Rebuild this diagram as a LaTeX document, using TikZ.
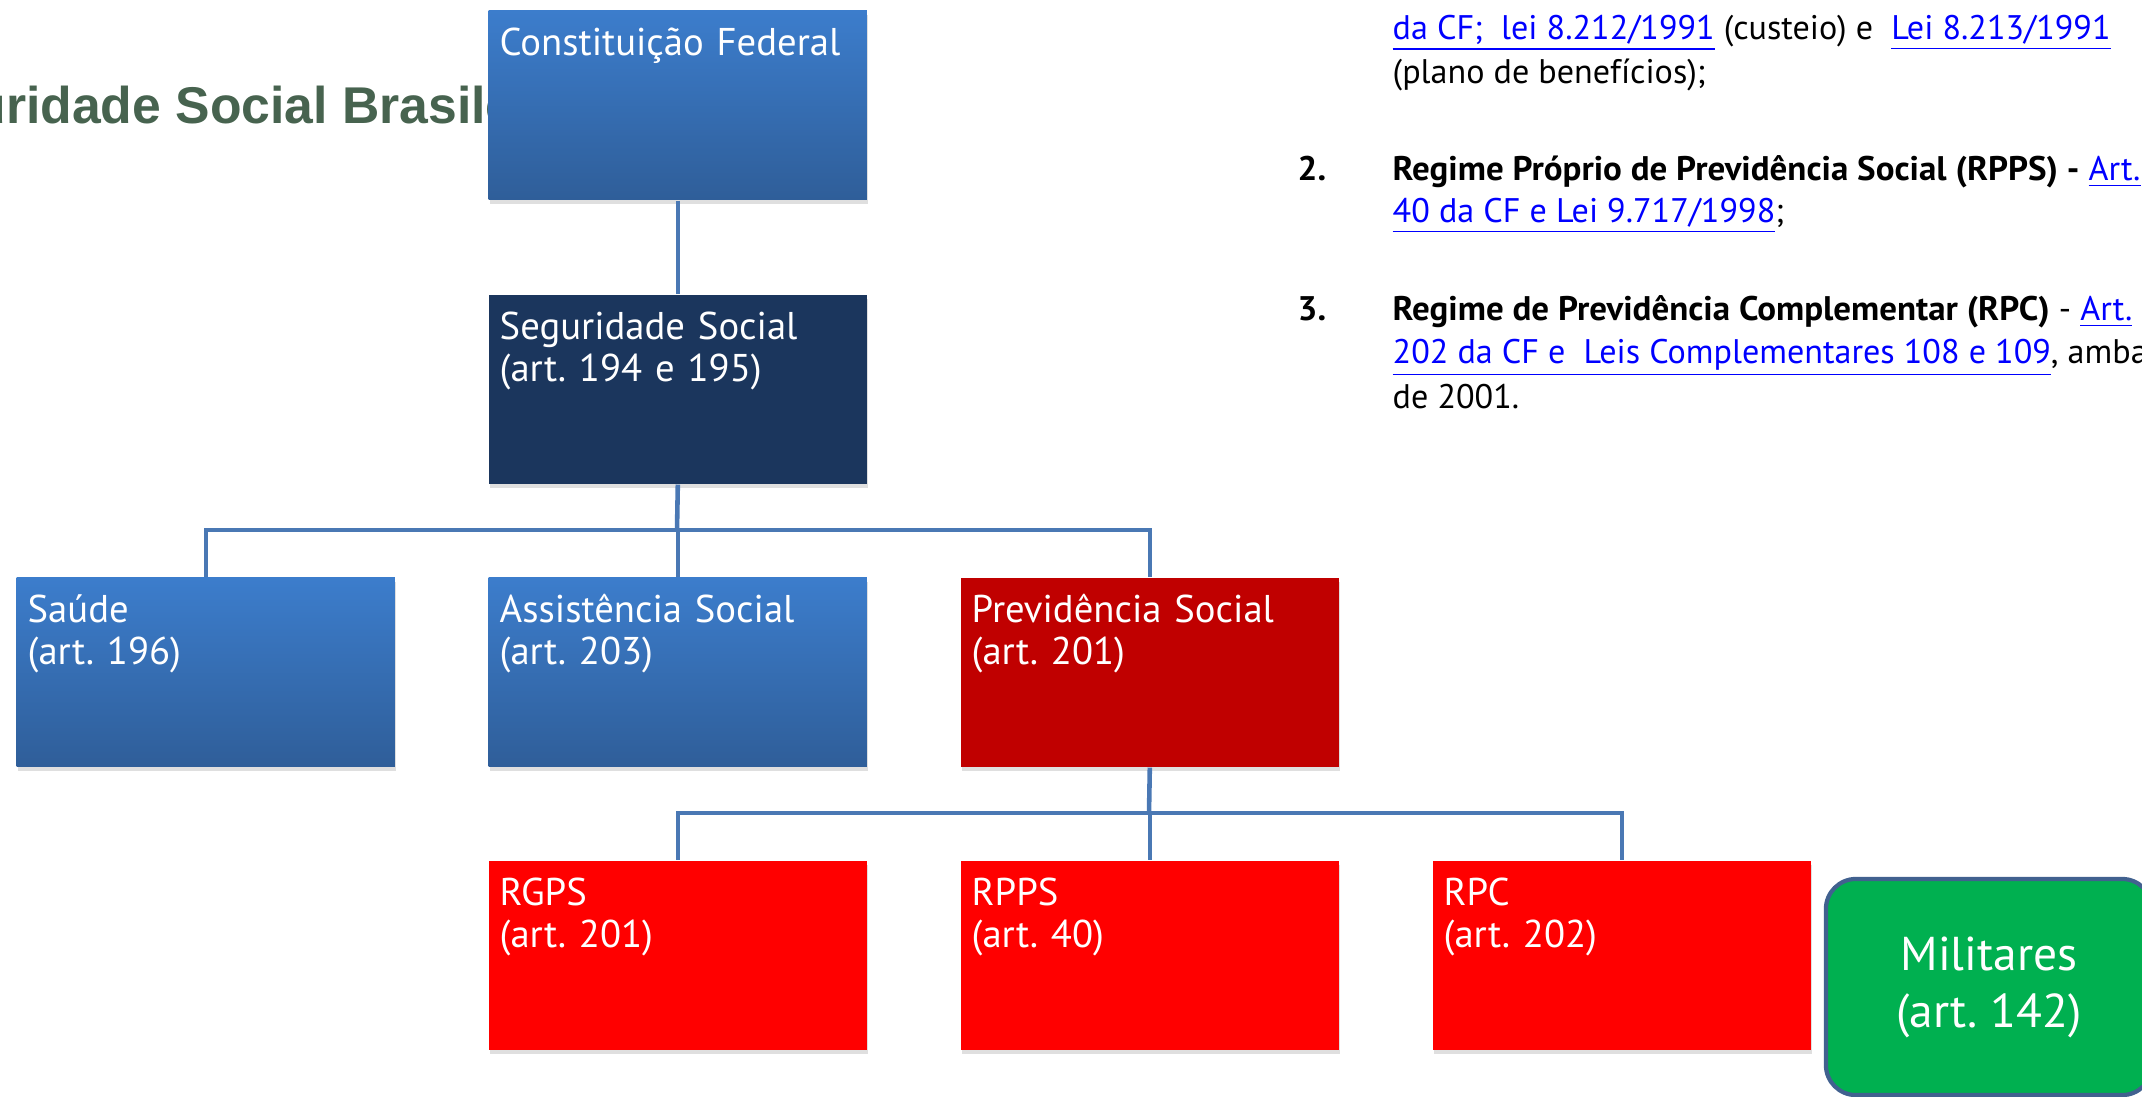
\documentclass[tikz,border=0pt]{standalone}
\usepackage{fontspec}
\setmainfont{PT Sans}[BoldFeatures={FakeStretch=1.025}]
\newfontfamily\titlefont{Liberation Sans}
\usepackage{tikz}
\usetikzlibrary{shadows}
\definecolor{cfblue}{HTML}{3C7DCC}
\definecolor{cfbluedk}{HTML}{2F5E99}
\definecolor{navy}{HTML}{1B365D}
\definecolor{prevred}{HTML}{C00000}
\definecolor{regred}{HTML}{FF0000}
\definecolor{milgreen}{HTML}{00B050}
\definecolor{milline}{HTML}{41618F}
\definecolor{wirec}{HTML}{4A78B4}
\definecolor{titlegreen}{HTML}{47634F}
\definecolor{linkblue}{HTML}{0000FF}
\newcommand{\lnk}[1]{\textcolor{linkblue}{\underline{#1}}}
\frenchspacing
\tikzset{
  blk/.style={anchor=north west, inner xsep=0.11cm, inner ysep=0pt, text width=3.56cm,
    text height=0.45cm, text depth=1.44cm, align=left, text=white,
    font=\fontsize{11}{12}\selectfont,
    drop shadow={shadow xshift=0.015cm, shadow yshift=-0.04cm, opacity=0.25}},
  bluebox/.style={blk, top color=cfblue, bottom color=cfbluedk},
  navybox/.style={blk, fill=navy},
  prevbox/.style={blk, fill=prevred},
  regbox/.style={blk, fill=regred},
  milbox/.style={draw=milline, line width=1.2pt, fill=milgreen, rounded corners=0.3cm,
    minimum width=3.26cm, minimum height=2.16cm, align=center, text=white,
    font=\fontsize{13.5}{16.2}\selectfont},
  wire/.style={draw=wirec, line width=1.3pt},
  ttl/.style={anchor=base west, inner sep=0pt, text=titlegreen,
    font=\titlefont\bfseries\fontsize{14.7}{16}\selectfont},
  txt/.style={anchor=base west, inner sep=0pt, font=\fontsize{9.7}{11}\selectfont},
  num/.style={txt, font=\bfseries\fontsize{9.7}{11}\selectfont},
}
\begin{document}
\begin{tikzpicture}[x=0.01cm, y=-0.01cm]
  \useasboundingbox (0,0) rectangle (2142,1096);
  \clip (0,0) rectangle (2142,1096);
  % title behind the chart
  \node[ttl] (title) at (-121,123) {Seguridade Social Brasileira};
  % chart boxes
  \node[bluebox] (cf) at (488,10) {Constituição Federal};
  \node[navybox] (ss) at (488,294) {Seguridade Social\\(art. 194 e 195)};
  \node[bluebox] (saude) at (16,577) {Saúde\\(art. 196)};
  \node[bluebox] (assist) at (488,577) {Assistência Social\\(art. 203)};
  \node[prevbox] (prev) at (960,577) {Previdência Social\\(art. 201)};
  \node[regbox] (rgps) at (488,860) {RGPS\\(art. 201)};
  \node[regbox] (rpps) at (960,860) {RPPS\\(art. 40)};
  \node[regbox] (rpc) at (1432,860) {RPC\\(art. 202)};
  \node[milbox] (mil) at (1989,987) {Militares\\(art. 142)};
  % connectors
  \coordinate (j1) at (677,530);
  \coordinate (j2) at (1149,813);
  \draw[wire] (cf.south) -- (ss.north);
  \draw[wire] (ss.south) -- (j1);
  \foreach \n in {saude,assist,prev}
    \draw[wire] (j1) -| (\n.north);
  \draw[wire] (prev.south) -- (j2);
  \foreach \n in {rgps,rpps,rpc}
    \draw[wire] (j2) -| (\n.north);
  % list on the right
  \node[txt] (r1) at (1392,39) {\lnk{da CF;\ \ lei 8.212/1991} (custeio) e\ \ \lnk{Lei 8.213/1991}};
  \node[txt] (r2) at (1392,83) {(plano de benefícios);};
  \node[num] (n2) at (1297,180) {2.};
  \node[txt] (r3) at (1392,180) {\textbf{Regime Próprio de Previdência Social (RPPS) -} \lnk{Art.}};
  \node[txt] (r4) at (1392,222) {\lnk{40 da CF e Lei 9.717/1998};};
  \node[num] (n3) at (1297,320) {3.};
  \node[txt] (r5) at (1392,320) {\textbf{Regime de Previdência Complementar (RPC)} - \lnk{Art.}};
  \node[txt] (r6) at (1392,363) {\lnk{202 da CF e\ \ Leis Complementares 108 e 109}, ambas};
  \node[txt] (r7) at (1392,408) {de 2001.};
\end{tikzpicture}
\end{document}
